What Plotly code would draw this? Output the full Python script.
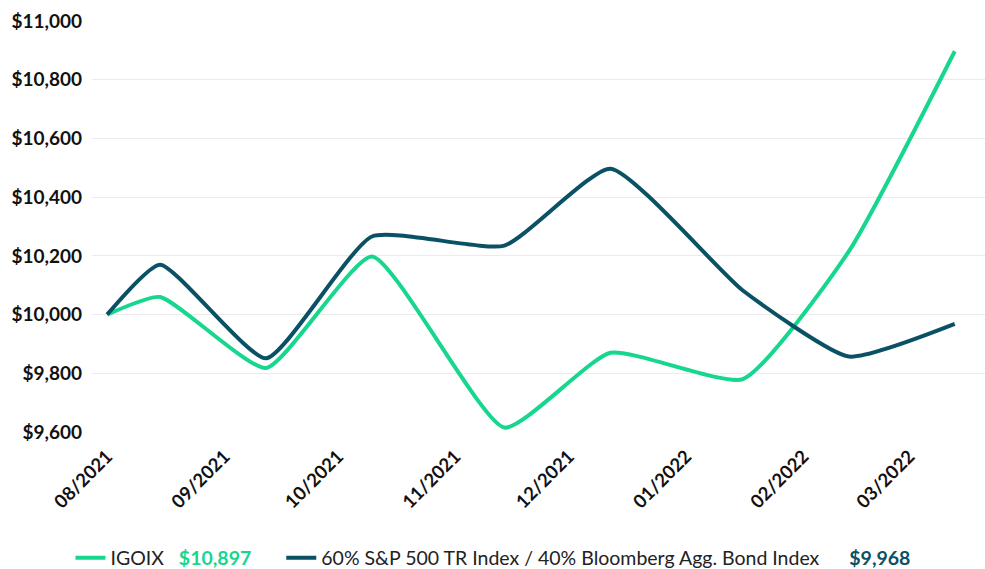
import plotly.graph_objects as go

dates = ["2021-08-01", "2021-08-15", "2021-09-12", "2021-10-10", "2021-11-14",
         "2021-12-12", "2022-01-16", "2022-02-13", "2022-03-13"]
igoix = [10000, 10060, 9818, 10198, 9615, 9870, 9780, 10215, 10897]
bench = [10000, 10170, 9851, 10266, 10235, 10497, 10082, 9857, 9968]
tick_dates = ["2021-08-01", "2021-09-01", "2021-10-01", "2021-11-01",
              "2021-12-01", "2022-01-01", "2022-02-01", "2022-03-01"]
tick_labels = ["08/2021", "09/2021", "10/2021", "11/2021",
               "12/2021", "01/2022", "02/2022", "03/2022"]
y_ticks = [9600, 9800, 10000, 10200, 10400, 10600, 10800, 11000]
names = ["IGOIX", "60% S&P 500 TR Index / 40% Bloomberg Agg. Bond Index"]

GREEN = "#17d68e"
TEAL = "#0a5166"
FONT = "Lato"

name1 = names[0] + "\u00a0\u00a0\u00a0<b><span style='color:" + GREEN + "'>$" + f"{igoix[-1]:,}" + "</span></b>\u00a0\u00a0\u00a0\u00a0\u00a0"
name2 = names[1] + "\u00a0\u00a0\u00a0\u00a0\u00a0\u00a0<b><span style='color:" + TEAL + "'>$" + f"{bench[-1]:,}" + "</span></b>"

fig = go.Figure()
fig.add_trace(go.Scatter(
    x=dates, y=igoix, mode="lines",
    line=dict(color=GREEN, width=4, shape="spline", smoothing=0.5),
    name=name1,
))
fig.add_trace(go.Scatter(
    x=dates, y=bench, mode="lines",
    line=dict(color=TEAL, width=4, shape="spline", smoothing=0.5),
    name=name2,
))

fig.update_layout(
    width=985, height=569,
    margin=dict(l=92, r=0, t=21, b=137),
    paper_bgcolor="white", plot_bgcolor="white",
    font=dict(family=FONT, size=18, color="#111111"),
    showlegend=True,
    legend=dict(orientation="h", x=0.449, xanchor="center",
                yref="container", y=0.019, yanchor="middle",
                font=dict(family=FONT, size=19.5, color="#222222"),
                itemwidth=30),
    xaxis=dict(
        type="date",
        range=["2021-07-28", "2022-03-21"],
        tickmode="array", tickvals=tick_dates, ticktext=tick_labels,
        tickangle=-45, showgrid=False, zeroline=False, showline=False,
        ticks="", tickfont=dict(family=FONT, size=18.5, color="#111111", weight="bold"),
        ticklabelstandoff=9,
    ),
    yaxis=dict(
        range=[9600, 11000],
        tickmode="array", tickvals=y_ticks,
        ticktext=[f"${v:,}" for v in y_ticks],
        showgrid=True, gridcolor="#ebebeb", gridwidth=1,
        zeroline=False, showline=False, ticks="",
        tickfont=dict(family=FONT, size=19, color="#111111", weight="bold"),
        ticklabelstandoff=9,
    ),
)

fig.write_html("out.html")
